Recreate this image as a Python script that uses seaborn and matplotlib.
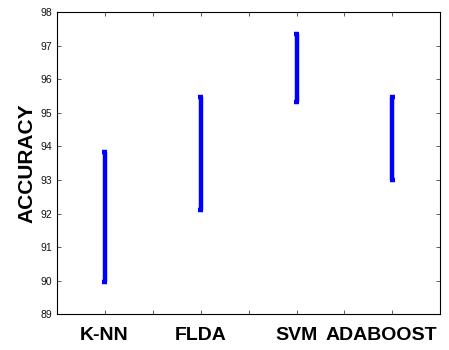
import matplotlib
matplotlib.use("Agg")
import matplotlib.pyplot as plt
import seaborn as sns
import pandas as pd
from matplotlib.ticker import MultipleLocator
from matplotlib.transforms import ScaledTranslation

methods = ["K-NN", "FLDA", "SVM", "ADABOOST"]
acc_low = [89.95, 92.12, 95.34, 93.0]
acc_high = [93.85, 95.48, 97.35, 95.48]

df = pd.DataFrame({
    "method": methods * 2,
    "accuracy": acc_low + acc_high,
})

sns.set_style("ticks")
plt.rcParams["font.family"] = ["Liberation Sans", "DejaVu Sans"]
plt.rcParams["text.color"] = "black"
plt.rcParams["xtick.color"] = "black"
plt.rcParams["ytick.color"] = "black"

fig = plt.figure(figsize=(4.49, 3.5), dpi=100)
ax = fig.add_axes([0.126, 0.102, 0.855, 0.863])

sns.pointplot(
    data=df, x="method", y="accuracy", order=methods,
    errorbar=lambda v: (v.min(), v.max()),
    estimator="mean", marker="", linestyle="none",
    color="#0000ff", capsize=0.06,
    err_kws={"linewidth": 3.2, "solid_capstyle": "butt"},
    ax=ax,
)

ax.set_xlim(-0.5, 3.5)
ax.set_ylim(89, 98)
ax.yaxis.set_major_locator(MultipleLocator(1))
ax.xaxis.set_minor_locator(MultipleLocator(0.5))
ax.tick_params(which="both", direction="in", top=True, right=True,
               length=3, width=0.6, color="#444444")
ax.tick_params(axis="y", labelsize=7.5, pad=3, labelcolor="#111111")
ax.tick_params(axis="x", labelsize=14, pad=9, labelcolor="black")
for lab in ax.get_xticklabels():
    lab.set_fontweight("bold")
last = ax.get_xticklabels()[-1]
last.set_transform(last.get_transform()
                   + ScaledTranslation(-8 / 72, 0, fig.dpi_scale_trans))
for s in ax.spines.values():
    s.set_linewidth(0.8)
    s.set_color("black")
    s.set_visible(True)
ax.set_xlabel("")
ax.set_ylabel("ACCURACY", fontsize=15, fontweight="bold", labelpad=3,
              color="black")

fig.savefig("out.png", dpi=100)
